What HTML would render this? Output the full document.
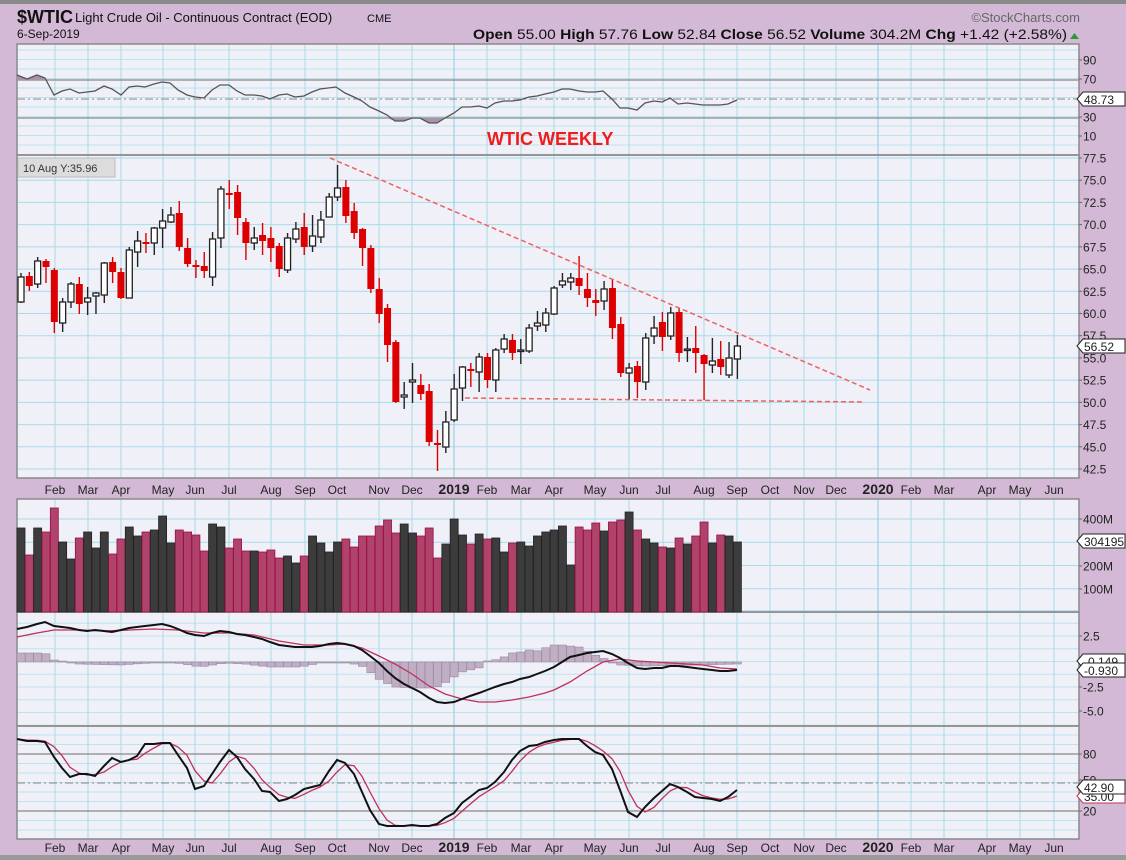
<!DOCTYPE html>
<html><head><meta charset="utf-8"><style>
html,body{margin:0;padding:0;background:#d3b9d5;}
svg{display:block;font-family:"Liberation Sans",sans-serif;}
</style></head><body>
<svg id="s" width="1126" height="860" xmlns="http://www.w3.org/2000/svg"></svg>
<script>
const S=document.getElementById('s');let h='';
const L=17,R=1079;
h+=`<rect x="0" y="0" width="1126" height="860" fill="#d3b9d5"/>`;
h+=`<rect x="0" y="0" width="1126" height="4" fill="#8a8a8a"/><rect x="0" y="855" width="1126" height="5" fill="#9a9a9a"/>`;
h+=`<text x="17" y="23" font-size="18" font-weight="bold" fill="#111">$WTIC</text><text x="75" y="22" font-size="13" fill="#111">Light Crude Oil - Continuous Contract (EOD)</text><text x="367" y="22" font-size="11" fill="#111">CME</text>`;
h+=`<text x="17" y="38" font-size="12" fill="#111">6-Sep-2019</text>`;
h+=`<text x="1080" y="22" font-size="13" fill="#666" text-anchor="end">©StockCharts.com</text>`;
h+=`<text x="1067" y="39" font-size="14" fill="#111" text-anchor="end" textLength="594" lengthAdjust="spacingAndGlyphs"><tspan font-weight="bold">Open</tspan> 55.00  <tspan font-weight="bold">High</tspan> 57.76  <tspan font-weight="bold">Low</tspan> 52.84  <tspan font-weight="bold">Close</tspan> 56.52  <tspan font-weight="bold">Volume</tspan> 304.2M  <tspan font-weight="bold">Chg</tspan> +1.42 (+2.58%)</text>`;
h+=`<polygon points="1070,39 1079,39 1074.5,33" fill="#2a9a3a"/>`;
const panels=[[44,155],[155,478],[499,612],[612,726],[726,839]];
const months=[55,88,121,163,195,229,271,305,337,379,412,454,487,521,554,595,629,663,704,737,770,804,836,878,911,944,987,1020,1054];
const mnames=['Feb','Mar','Apr','May','Jun','Jul','Aug','Sep','Oct','Nov','Dec','2019','Feb','Mar','Apr','May','Jun','Jul','Aug','Sep','Oct','Nov','Dec','2020','Feb','Mar','Apr','May','Jun'];
function hl(y,c,w,d){h+=`<line x1="${L}" x2="${R}" y1="${y}" y2="${y}" stroke="${c}" stroke-width="${w||1}" ${d?`stroke-dasharray="${d}"`:''}/>`;}
for(const [a,b] of panels){h+=`<rect x="${L}" y="${a}" width="${R-L}" height="${b-a}" fill="#eff0f8"/>`;}
for(let y=50;y<155;y+=9.5)hl(y,'#bfe3ee');
for(let p=77.5;p>=42;p-=2.5)hl(158+(77.5-p)*8.886,'#a9dbe9');
for(const v of [100,200,300,400])hl(612-v*0.2325,'#a9dbe9');
for(let y=636-25.5;y<726;y+=12.75)hl(y,'#bfe3ee');
for(let y=735;y<839;y+=9.5)hl(y,'#bfe3ee');
for(const [a,b] of panels){for(const x of months){h+=`<line x1="${x}" x2="${x}" y1="${a}" y2="${b}" stroke="${x==454||x==878?'#8cc8e0':'#a9dbe9'}"/>`;}}
hl(80,'#888',1.3);hl(118,'#888',1.3);hl(99,'#888',1,'8 3 2 3');
hl(754,'#888',1.3);hl(811,'#888',1.3);hl(783,'#888',1,'8 3 2 3');
for(const [a,b] of panels){h+=`<rect x="${L}" y="${a}" width="${R-L}" height="${b-a}" fill="none" stroke="#8a8a8a" stroke-width="1.5"/>`;}
for(const y of [494,852]) months.forEach((x,i)=>{const b=mnames[i]=='2019'||mnames[i]=='2020';h+=`<text x="${x}" y="${y}" font-size="${b?14:12}" ${b?'font-weight="bold"':''} fill="#222" text-anchor="middle">${mnames[i]}</text>`;});
function rl(y,t){h+=`<line x1="${R}" x2="${R+3}" y1="${y}" y2="${y}" stroke="#666"/><text x="${R+4}" y="${y+4.5}" font-size="12" fill="#222">${t}</text>`;}
[[60,'90'],[79,'70'],[117,'30'],[136,'10']].forEach(a=>rl(...a));
for(let p=77.5;p>=42;p-=2.5)rl(158+(77.5-p)*8.886,p.toFixed(1));
[[519,'400M'],[566,'200M'],[589,'100M']].forEach(a=>rl(...a));
[[636,'2.5'],[687,'-2.5'],[711,'-5.0']].forEach(a=>rl(...a));
[[754,'80'],[811,'20']].forEach(a=>rl(...a));
function tag(y,t,c){h+=`<polygon points="${R-2},${y} ${R+4},${y-7} ${R+46},${y-7} ${R+46},${y+7} ${R+4},${y+7}" fill="#fff" stroke="${c||'#222'}"/><text x="${R+5}" y="${y+5}" font-size="12" fill="#222">${t}</text>`;}
const rsi=[[17,75],[27,79],[37,75],[45,78],[54,95],[62,91],[70,89],[79,93],[87,92],[95,91],[104,86],[112,89],[121,95],[129,87],[137,86],[145,87],[154,84],[162,82],[170,83],[178,90],[187,95],[195,97],[204,98],[212,90],[220,85],[229,85],[237,91],[245,95],[254,95],[262,96],[270,99],[279,95],[287,94],[295,97],[304,96],[312,92],[320,89],[336,87],[345,93],[354,97],[362,101],[370,107],[379,111],[387,115],[395,121],[404,121],[412,118],[420,118],[429,123],[437,123],[445,118],[454,113],[462,107],[470,107],[479,106],[487,108],[495,103],[504,101],[512,101],[520,100],[529,97],[537,96],[545,94],[554,92],[562,89],[570,89],[579,91],[587,92],[595,92],[603,91],[612,99],[620,108],[628,108],[637,110],[645,103],[654,101],[662,102],[670,98],[678,104],[687,103],[695,104],[703,105],[712,105],[720,105],[728,104],[737,100]];
h+=`<polygon points="17,80 17,75 27,79 37,75 45,78 46,80" fill="#a893ad"/>`;
h+=`<polygon points="387,118 395,121 404,121 412,118 420,118 429,123 437,123 445,118" fill="#a893ad"/>`;
h+=`<polyline points="${rsi.map(p=>p.join(',')).join(' ')}" fill="none" stroke="#555" stroke-width="1.3"/>`;
tag(99,'48.73');
h+=`<text x="487" y="145" font-size="18" font-weight="bold" fill="#ee1c1c">WTIC WEEKLY</text>`;
const C=[[302,277,273,303],[276,286,272,291],[284,261,257,288],[261,267,259,283],[270,322,268,333],[323,302,298,332],[302,284,282,308],[284,304,277,314],[302,298,287,315],[296,293,292,314],[295,263,262,303],[262,272,257,283],[272,298,268,299],[298,250,247,298],[252,241,231,267],[242,243,233,253],[243,228,227,255],[228,221,209,248],[222,215,207,223],[213,247,201,251],[248,264,238,267],[265,265.8,260,278],[266,271,252,278],[277,239,232,286],[238,189,186,248],[193,195,180,209],[192,218,185,235],[222,243,218,260],[243,238,227,250],[235,241,223,255],[238,248,227,262],[246,269,243,277],[270,238,233,273],[239,229,222,243],[227,247,213,255],[246,236,215,252],[237,220,211,243],[217,197,193,217],[197,188,165,201],[187,216,180,223],[211,233,203,239],[229,248,228,266],[248,289,245,293],[289,314,278,323],[308,345,304,362],[342,402,340,403],[397,395,382,409],[382,380,363,403],[385,394,374,400],[391,442,384,446],[443,445,430,471],[447,422,411,453],[420,389,374,422],[388,367,366,401],[369,371,363,387],[372,357,353,392],[357,380,353,388],[380,350,348,392],[349,339,334,353],[340,353,334,360],[350.5,350,339,364],[351,328,324,353],[326,323,311,331],[325,313,308,332],[314,288,286,315],[285,281,273,288],[282,278,273,290],[278,286,256,295],[289,298,273,307],[300,303,289,316],[301,289,281,310],[288,328,279,339],[324,373,317,377],[373,368,363,400],[366,382,361,398],[382,338,333,390],[336,328,316,344],[322,337,312,351],[336,313,307,340],[312,353,308,362],[349.5,349,337,362],[348,353,326,373],[355,364,354,400],[365,361,338,373],[359,367,341,375],[375,358,342,378],[359,346,335,379]];
const X=i=>21+i*8.33;
C.forEach((c,i)=>{const x=X(i),up=c[1]<c[0];const t=Math.min(c[0],c[1]),b=Math.max(c[0],c[1]);const col=up?'#222':'#dd0000';
h+=`<line x1="${x}" x2="${x}" y1="${c[2]}" y2="${c[3]}" stroke="${col}" stroke-width="1.4"/>`;
if(up)h+=`<rect x="${x-3}" y="${t}" width="6" height="${Math.max(b-t,1.5)}" fill="#fff" stroke="#222" stroke-width="1.3"/>`;
else h+=`<rect x="${x-3.5}" y="${t}" width="7" height="${Math.max(b-t,2)}" fill="#dd0000"/>`;});
h+=`<line x1="330" y1="158" x2="870" y2="390" stroke="#f06060" stroke-width="1.5" stroke-dasharray="5 3"/>`;
h+=`<line x1="465" y1="398" x2="865" y2="402" stroke="#f06060" stroke-width="1.5" stroke-dasharray="5 3"/>`;
h+=`<rect x="18" y="158" width="97" height="19" fill="#dcdcdc" stroke="#bbb"/><text x="23" y="172" font-size="11" fill="#333">10 Aug Y:35.96</text>`;
tag(346,'56.52');
let V=[[528,0],[555,1],[528,0],[532,1],[508,1],[542,0],[559,0],[538,1],[532,0],[548,0],[532,0],[554,1],[539,1],[527,0],[536,0],[532,1],[530,0],[516,0],[543,0],[530,1],[532,1],[535,1],[551,1],[524,0],[527,0],[548,1],[539,1],[551,1],[551,0],[552,1],[550,1],[558,1],[556,0],[563,0],[556,1],[536,0],[543,0],[552,0],[542,0],[539,1],[547,1],[536,1],[536,1],[526,1],[520,1],[533,1],[524,0],[533,0],[536,1],[528,1],[558,1],[544,0],[519,0],[535,0],[544,1],[534,0],[539,1],[538,0],[552,0],[543,1],[542,0],[546,0],[536,0],[532,0],[530,0],
[526,0],[565,0],[527,1],[530,1],[523,1],[531,0],[522,1],[520,1],[512,0],[530,1],[539,0],[543,0],[547,1],[548,0],[538,1],[544,0],[536,1],[522,1],[543,0],[535,1],[536,0],[542,0]];
V.forEach((v,i)=>{const x=X(i);h+=`<rect x="${x-4}" y="${v[0]}" width="8" height="${612-v[0]}" fill="${v[1]?'#b0436b':'#3c3c3c'}" stroke="${v[1]?'#9a1040':'#222'}" stroke-width="0.8"/>`;});
tag(541,'304195');
const M=[[17,629],[27,627],[37,624],[45,622],[54,626],[62,627],[70,628],[79,630],[87,631],[95,630],[104,631],[112,632],[121,630],[129,628],[137,627],[145,626],[154,625],[162,624],[170,626],[178,629],[187,633],[195,635],[204,636],[212,633],[220,631],[229,632],[237,634],[245,635],[254,637],[262,639],[270,642],[279,645],[287,646],[295,647],[304,647],[312,647],[320,646],[329,644],[337,643],[345,644],[354,646],[362,650],[370,656],[379,663],[387,671],[395,678],[404,684],[412,688],[420,692],[429,698],[437,702],[445,703],[454,702],[462,699],[470,696],[479,693],[487,690],[495,687],[504,684],[512,682],[520,679],[529,677],[537,674],[545,671],[554,667],[562,662],[570,657],[579,655],[587,653],[595,652],[603,651],[612,654],[620,658],[628,663],[637,668],[645,669],[654,668],[662,668],[670,666],[678,666],[687,667],[695,668],[703,669],[712,670],[720,671],[728,671],[737,670]];
const SG=[[17,637],[37,633],[54,630],[79,630],[104,631],[129,630],[154,629],[178,630],[204,633],[229,633],[254,635],[279,641],[304,645],[329,645],[345,644],[362,648],[379,656],[395,664],[412,674],[429,686],[445,694],[462,699],[479,702],[495,702],[512,700],[529,697],[545,693],[554,690],[570,682],[587,671],[603,662],[620,659],[637,661],[654,662],[670,663],[687,664],[703,665],[720,668],[737,669]];
const HG=[[17,653],[45,653],[54,660],[62,661],[70,662],[79,664],[120,665],[150,663],[170,662],[190,665],[200,667],[225,663],[245,664],[270,667],[300,667],[320,663],[337,662],[350,663],[362,666],[370,672],[380,680],[395,687],[412,688],[429,688],[437,687],[445,683],[454,677],[462,672],[470,670],[479,668],[487,661],[495,660],[504,657],[512,653],[521,652],[529,650],[537,651],[545,648],[554,645],[562,645],[570,646],[579,647],[587,651],[595,655],[603,658],[612,662],[620,665],[645,666],[700,665],[737,664]];
function interp(a,x){for(let i=1;i<a.length;i++){if(x<=a[i][0]){const t=(x-a[i-1][0])/(a[i][0]-a[i-1][0]);return a[i-1][1]+t*(a[i][1]-a[i-1][1]);}}return a[a.length-1][1];}
for(let i=0;i<87;i++){const x=X(i);const y=interp(HG,x);const t=Math.min(662,y);h+=`<rect x="${x-4}" y="${t}" width="8" height="${Math.max(Math.abs(y-662),1)}" fill="#c0aec4" stroke="#9a8aa0" stroke-width="0.6"/>`;}
h+=`<polyline points="${SG.map(p=>p.join(',')).join(' ')}" fill="none" stroke="#c0305a" stroke-width="1.3"/>`;
h+=`<polyline points="${M.map(p=>p.join(',')).join(' ')}" fill="none" stroke="#111" stroke-width="2"/>`;
tag(661,'-0.149');tag(670,'-0.930');
const K=[[17,739],[27,741],[37,741],[45,742],[54,757],[62,768],[70,777],[79,774],[87,774],[95,776],[104,766],[112,758],[121,762],[129,760],[137,756],[145,744],[154,744],[162,743],[170,743],[178,755],[187,768],[195,789],[204,786],[212,774],[220,762],[229,750],[237,757],[245,769],[254,779],[262,791],[270,792],[279,801],[287,799],[295,795],[304,789],[312,787],[320,785],[329,771],[337,760],[345,763],[354,774],[362,792],[370,810],[379,824],[387,826],[395,826],[404,826],[412,825],[420,826],[429,826],[437,824],[445,818],[454,813],[462,803],[470,797],[479,790],[487,788],[495,782],[504,772],[512,760],[520,751],[529,746],[537,745],[545,742],[554,740],[562,739],[570,739],[579,739],[587,746],[595,752],[603,755],[612,769],[620,790],[628,812],[637,817],[645,807],[654,798],[662,791],[670,784],[678,787],[687,792],[695,797],[703,798],[712,799],[720,801],[728,797],[737,790]];
const D=K.map((p,i)=>{const a=K.slice(Math.max(0,i-2),i+1);return [p[0],a.reduce((s,q)=>s+q[1],0)/a.length];});
h+=`<polyline points="${D.map(p=>p[0]+','+p[1].toFixed(1)).join(' ')}" fill="none" stroke="#c0305a" stroke-width="1.3"/>`;
h+=`<polyline points="${K.map(p=>p.join(',')).join(' ')}" fill="none" stroke="#111" stroke-width="2"/>`;
rl(780,'50');tag(796,'35.00','#c0305a');tag(787,'42.90');
S.innerHTML=h;
</script>
</body></html>
